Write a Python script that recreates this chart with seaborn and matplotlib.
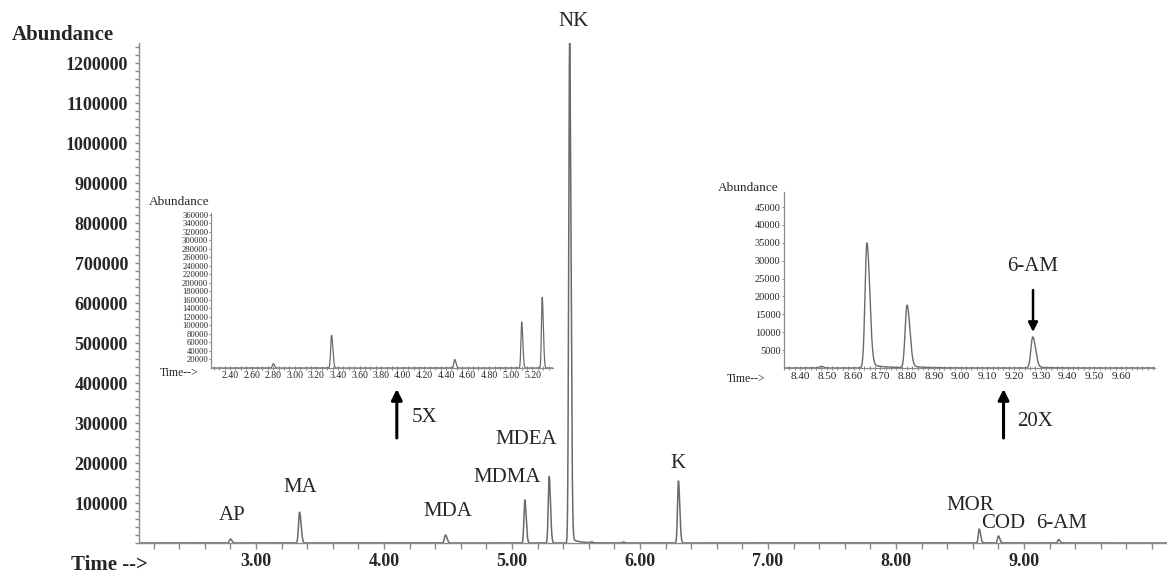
import numpy as np
import pandas as pd
import matplotlib
matplotlib.use("Agg")
import matplotlib.pyplot as plt
from matplotlib.ticker import MultipleLocator, FixedLocator, NullFormatter
import seaborn as sns

# ---------------- data ----------------
peak_names   = ["AP", "MA", "MDA", "MDMA", "MDEA", "NK", "K", "MOR", "COD", "6-AM"]
peak_times   = [2.80, 3.34, 4.48, 5.10, 5.29, 5.45, 6.30, 8.65, 8.80, 9.27]
peak_heights = [10000, 77000, 20000, 108000, 166000, 1250000, 155000, 35000, 17500, 8700]
peak_sigmas  = [0.008, 0.008, 0.008, 0.007, 0.007, 0.007, 0.007, 0.007, 0.007, 0.007]
peak_tails   = [0.0, 0.0, 0.0, 0.0, 0.0, 0.01, 0.0, 0.03, 0.03, 0.03]

small_times   = [5.62, 5.87, 8.48]
small_heights = [2500, 2500, 450]

main_xticks      = [3.0, 4.0, 5.0, 6.0, 7.0, 8.0, 9.0]
main_xticklabels = ["3.00", "4.00", "5.00", "6.00", "7.00", "8.00", "9.00"]
main_yticks      = [100000, 200000, 300000, 400000, 500000, 600000,
                    700000, 800000, 900000, 1000000, 1100000, 1200000]

left_xticks  = [2.40, 2.60, 2.80, 3.00, 3.20, 3.40, 3.60, 3.80, 4.00,
                4.20, 4.40, 4.60, 4.80, 5.00, 5.20]
left_yticks  = [20000, 40000, 60000, 80000, 100000, 120000, 140000, 160000,
                180000, 200000, 220000, 240000, 260000, 280000, 300000,
                320000, 340000, 360000]
right_xticks = [8.40, 8.50, 8.60, 8.70, 8.80, 8.90, 9.00, 9.10, 9.20,
                9.30, 9.40, 9.50, 9.60]
right_yticks = [5000, 10000, 15000, 20000, 25000, 30000, 35000, 40000, 45000]

# ---------------- build the trace from the peak table ----------------
t = np.linspace(2.0, 10.2, 16401)
signal = np.zeros_like(t)
for t0, h, s, tf in zip(peak_times, peak_heights, peak_sigmas, peak_tails):
    left = t < t0
    g = np.where(left, np.exp(-0.5 * ((t - t0) / s) ** 2),
                 np.exp(-0.5 * ((t - t0) / (1.5 * s)) ** 2))
    tail = np.where(left, 0.0, tf * np.exp(-(t - t0) / 0.06) * (1 - np.exp(-((t - t0) / (2 * s)) ** 2)))
    signal += h * (g + tail)
for t0, h in zip(small_times, small_heights):
    signal += h * np.exp(-0.5 * ((t - t0) / 0.008) ** 2)
df = pd.DataFrame({"time": t, "abundance": signal})

# ---------------- styling ----------------
sns.set_style("white")
plt.rcParams["font.family"] = ["Liberation Serif", "DejaVu Serif"]
plt.rcParams["axes.linewidth"] = 1.0

W, H = 1167, 575
fig = plt.figure(figsize=(W / 100, H / 100), dpi=100)

def frac(x0, y_top, x1, y_bot):
    return [x0 / W, (H - y_bot) / H, (x1 - x0) / W, (y_bot - y_top) / H]

LINE = "#6a6a6a"
AX = "#8a8a8a"

# ---------------- main axes ----------------
ax = fig.add_axes(frac(139, 43, 1167, 543))
sns.lineplot(data=df, x="time", y="abundance", ax=ax, color=LINE, lw=1.1)
ax.set_xlim(2.0859, 10.117)
ax.set_ylim(0, 1250000)
for sp in ["top", "right"]:
    ax.spines[sp].set_visible(False)
for sp in ["left", "bottom"]:
    ax.spines[sp].set_color(AX)
ax.set_xlabel("")
ax.set_ylabel("")
ax.xaxis.set_major_locator(FixedLocator(main_xticks))
ax.set_xticklabels(main_xticklabels, fontsize=13, fontweight="bold")
ax.xaxis.set_minor_locator(MultipleLocator(0.2))
ax.yaxis.set_major_locator(FixedLocator(main_yticks))
ax.set_yticklabels([str(v) for v in main_yticks], fontsize=13, fontweight="bold")
ax.yaxis.set_minor_locator(MultipleLocator(20000))
ax.tick_params(axis="both", which="both", direction="out", color=AX, width=1)
ax.tick_params(axis="x", which="both", length=4, pad=3, bottom=True)
ax.tick_params(axis="y", which="both", length=3, pad=5, left=True)

fig.text(63 / W, 1 - 35 / H, "Abundance", fontsize=15, fontweight="bold",
         ha="center", va="center")
fig.text(148 / W, 1 - 565 / H, "Time -->", fontsize=15, fontweight="bold",
         ha="right", va="center")

# peak labels (layout only)
label_pos = {"AP": (2.81, 70000), "MA": (3.344, 137500), "MDA": (4.50, 80000),
             "MDMA": (4.96, 165000), "MDEA": (5.11, 257500), "NK": (5.477, 1302500),
             "K": (6.30, 200000), "MOR": (8.58, 95000), "COD": (8.836, 47500),
             "6-AM": (9.29, 47500)}
for name in peak_names:
    x, y = label_pos[name]
    ax.text(x, y, name, fontsize=15, ha="center", va="center", clip_on=False)

arrow = dict(arrowstyle="-|>", color="black", lw=2.2, mutation_scale=16,
             shrinkA=0, shrinkB=0)
ax.annotate("", xy=(4.10, 385000), xytext=(4.10, 262500), arrowprops=arrow)
ax.text(4.32, 312500, "5X", fontsize=15, ha="center", va="center")
ax.annotate("", xy=(8.84, 385000), xytext=(8.84, 262500), arrowprops=arrow)
ax.text(9.09, 302500, "20X", fontsize=15, ha="center", va="center")

# ---------------- left inset ----------------
a1 = fig.add_axes(frac(211, 213, 553, 368))
a1.patch.set_alpha(0)
d1 = df[(df.time >= 2.22) & (df.time <= 5.39)]
sns.lineplot(data=d1, x="time", y="abundance", ax=a1, color=LINE, lw=0.9)
a1.set_xlim(2.224, 5.39)
a1.set_ylim(0, 364000)
for sp in ["top", "right"]:
    a1.spines[sp].set_visible(False)
for sp in ["left", "bottom"]:
    a1.spines[sp].set_color(AX)
    a1.spines[sp].set_linewidth(0.9)
a1.set_xlabel("")
a1.set_ylabel("")
a1.xaxis.set_major_locator(FixedLocator(left_xticks))
a1.set_xticklabels([f"{v:.2f}" for v in left_xticks], fontsize=7)
a1.xaxis.set_minor_locator(MultipleLocator(0.05))
a1.yaxis.set_major_locator(FixedLocator(left_yticks))
a1.set_yticklabels([str(v) for v in left_yticks], fontsize=6.2)
a1.tick_params(axis="x", which="both", direction="inout", length=2.5, width=0.7,
               color=AX, pad=1, bottom=True)
a1.tick_params(axis="y", which="both", direction="out", length=1.5, width=0.7,
               color=AX, pad=0.5, left=True)
fig.text(179 / W, 1 - 202 / H, "Abundance", fontsize=9.5, ha="center", va="center")
fig.text(179 / W, 1 - 373 / H, "Time-->", fontsize=8.5, ha="center", va="center")

# ---------------- right inset ----------------
a2 = fig.add_axes(frac(784, 192, 1155, 368))
a2.patch.set_alpha(0)
d2 = df[(df.time >= 8.33) & (df.time <= 9.73)]
sns.lineplot(data=d2, x="time", y="abundance", ax=a2, color=LINE, lw=1.0)
a2.set_xlim(8.34, 9.727)
a2.set_ylim(0, 49200)
for sp in ["top", "right"]:
    a2.spines[sp].set_visible(False)
for sp in ["left", "bottom"]:
    a2.spines[sp].set_color(AX)
    a2.spines[sp].set_linewidth(0.9)
a2.set_xlabel("")
a2.set_ylabel("")
a2.xaxis.set_major_locator(FixedLocator(right_xticks))
a2.set_xticklabels([f"{v:.2f}" for v in right_xticks], fontsize=8)
a2.xaxis.set_minor_locator(MultipleLocator(0.02))
a2.yaxis.set_major_locator(FixedLocator(right_yticks))
a2.set_yticklabels([str(v) for v in right_yticks], fontsize=7.5)
a2.tick_params(axis="x", which="both", direction="inout", length=2.5, width=0.7,
               color=AX, pad=1.5, bottom=True)
a2.tick_params(axis="y", which="both", direction="out", length=1.5, width=0.7,
               color=AX, pad=1, left=True)
fig.text(748 / W, 1 - 188 / H, "Abundance", fontsize=9.5, ha="center", va="center")
fig.text(746 / W, 1 - 379 / H, "Time-->", fontsize=8.5, ha="center", va="center")

a2.text(9.271, 28250, "6-AM", fontsize=15, ha="center", va="center")
a2.annotate("", xy=(9.271, 10070), xytext=(9.271, 21800),
            arrowprops=dict(arrowstyle="-|>", color="black", lw=1.8,
                            mutation_scale=14, shrinkA=0, shrinkB=0))

fig.savefig("out.png", dpi=100)
